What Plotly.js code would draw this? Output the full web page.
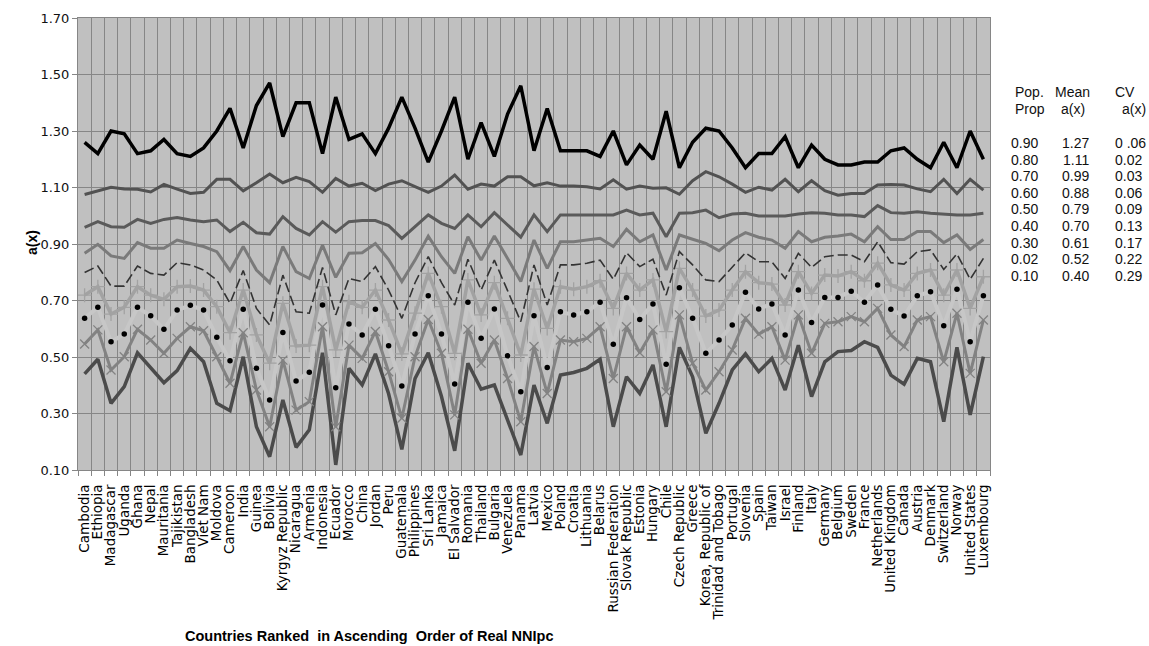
<!DOCTYPE html>
<html>
<head>
<meta charset="utf-8">
<script src="https://cdn.plot.ly/plotly-3.0.1.min.js"></script>
<style>html,body{margin:0;padding:0;background:#fff;}#chart{width:1149px;height:646px;}</style>
</head>
<body>
<div id="chart"></div>
<script>
const countries = ["Cambodia","Ethiopia","Madagascar","Uganda","Ghana","Nepal","Mauritania","Tajikistan","Bangladesh","Viet Nam","Moldova","Cameroon","India","Guinea","Bolivia","Kyrgyz Republic","Nicaragua","Armenia","Indonesia","Ecuador","Morocco","China","Jordan","Peru","Guatemala","Philippines","Sri Lanka","Jamaica","El Salvador","Romania","Thailand","Bulgaria","Venezuela","Panama","Latvia","Mexico","Poland","Croatia","Lithuania","Belarus","Russian Federation","Slovak Republic","Estonia","Hungary","Chile","Czech Republic","Greece","Korea, Republic of","Trinidad and Tobago","Portugal","Slovenia","Spain","Taiwan","Israel","Finland","Italy","Germany","Belgium","Sweden","France","Netherlands","United Kingdom","Canada","Austria","Denmark","Switzerland","Norway","United States","Luxembourg"];

const p90 = [1.26,1.22,1.30,1.29,1.22,1.23,1.27,1.22,1.21,1.24, 1.30,1.38,1.24,1.39,1.47,1.28,1.40,1.40,1.22,1.42, 1.27,1.29,1.22,1.31,1.42,1.31,1.19,1.30,1.42,1.20, 1.33,1.21,1.36,1.46,1.23,1.38,1.23,1.23,1.23,1.21, 1.30,1.18,1.25,1.20,1.37,1.17,1.26,1.31,1.30,1.24, 1.17,1.22,1.22,1.28,1.17,1.25,1.20,1.18,1.18,1.19, 1.19,1.23,1.24,1.20,1.17,1.26,1.17,1.30,1.20];
const p80 = [1.075,1.089,1.101,1.095,1.094,1.084,1.111,1.094,1.079,1.083, 1.129,1.129,1.088,1.117,1.148,1.117,1.136,1.121,1.083,1.132, 1.105,1.115,1.089,1.112,1.124,1.103,1.083,1.105,1.144,1.094, 1.112,1.105,1.138,1.138,1.106,1.117,1.105,1.105,1.103,1.095, 1.127,1.094,1.105,1.097,1.099,1.076,1.124,1.156,1.138,1.112, 1.083,1.101,1.091,1.129,1.085,1.124,1.089,1.073,1.079,1.079, 1.109,1.111,1.109,1.095,1.085,1.129,1.079,1.129,1.091];
const p70 = [0.959,0.979,0.961,0.959,0.987,0.973,0.987,0.994,0.985,0.979, 0.985,0.944,0.977,0.940,0.935,0.997,0.955,0.932,0.979,0.942, 0.979,0.983,0.983,0.965,0.920,0.961,1.003,0.973,0.955,1.003, 0.961,1.011,0.967,0.924,1.003,0.944,1.003,1.003,1.003,1.003, 1.003,1.020,1.003,1.009,0.926,1.009,1.011,1.020,0.993,1.006, 1.009,0.999,0.999,0.999,1.006,1.011,1.009,1.003,1.003,0.997, 1.036,1.011,1.009,1.014,1.009,1.006,1.003,1.003,1.009];
const p60 = [0.867,0.899,0.858,0.849,0.905,0.885,0.885,0.914,0.902,0.891, 0.873,0.806,0.891,0.808,0.763,0.891,0.802,0.778,0.896,0.782, 0.867,0.869,0.902,0.845,0.767,0.843,0.928,0.855,0.796,0.926, 0.843,0.928,0.849,0.767,0.914,0.814,0.908,0.908,0.914,0.920, 0.891,0.952,0.908,0.932,0.808,0.932,0.917,0.902,0.876,0.914, 0.940,0.924,0.914,0.885,0.944,0.908,0.924,0.928,0.935,0.908, 0.961,0.916,0.916,0.944,0.944,0.905,0.932,0.881,0.916];
const p50 = [0.799,0.822,0.751,0.751,0.822,0.796,0.790,0.834,0.826,0.808, 0.773,0.690,0.806,0.672,0.613,0.790,0.660,0.655,0.817,0.649, 0.778,0.767,0.820,0.737,0.637,0.763,0.855,0.763,0.684,0.846, 0.737,0.843,0.735,0.625,0.826,0.684,0.826,0.826,0.832,0.843, 0.775,0.869,0.820,0.846,0.719,0.873,0.826,0.773,0.767,0.820, 0.869,0.837,0.837,0.778,0.867,0.817,0.855,0.861,0.861,0.837, 0.908,0.834,0.829,0.873,0.879,0.810,0.865,0.775,0.849];
const p40 = [0.719,0.749,0.652,0.676,0.749,0.719,0.704,0.749,0.751,0.737, 0.678,0.586,0.737,0.578,0.478,0.690,0.539,0.542,0.749,0.525, 0.696,0.676,0.737,0.631,0.511,0.655,0.796,0.678,0.513,0.773, 0.649,0.763,0.637,0.507,0.740,0.601,0.749,0.740,0.749,0.770, 0.672,0.796,0.737,0.773,0.590,0.814,0.737,0.645,0.666,0.737, 0.802,0.763,0.758,0.684,0.802,0.725,0.790,0.787,0.802,0.770, 0.832,0.755,0.737,0.796,0.808,0.719,0.808,0.672,0.784];
const p30 = [0.637,0.676,0.554,0.581,0.676,0.646,0.598,0.666,0.683,0.666, 0.570,0.487,0.669,0.460,0.348,0.587,0.415,0.446,0.684,0.391, 0.617,0.578,0.669,0.540,0.397,0.581,0.717,0.581,0.404,0.694, 0.566,0.670,0.504,0.377,0.646,0.463,0.660,0.649,0.660,0.694, 0.545,0.710,0.633,0.688,0.474,0.745,0.637,0.513,0.560,0.613, 0.729,0.670,0.688,0.578,0.737,0.622,0.711,0.711,0.733,0.694, 0.755,0.669,0.645,0.717,0.731,0.611,0.740,0.554,0.717];
const p20 = [0.546,0.596,0.454,0.501,0.598,0.560,0.513,0.566,0.607,0.593, 0.501,0.407,0.586,0.383,0.253,0.489,0.312,0.342,0.607,0.253, 0.542,0.495,0.590,0.448,0.283,0.501,0.633,0.513,0.295,0.598, 0.478,0.560,0.424,0.271,0.537,0.371,0.560,0.554,0.566,0.607, 0.424,0.607,0.515,0.596,0.377,0.649,0.478,0.383,0.448,0.525, 0.637,0.581,0.607,0.489,0.649,0.513,0.619,0.625,0.643,0.625, 0.672,0.578,0.537,0.631,0.643,0.483,0.655,0.442,0.631];
const p10 = [0.440,0.492,0.336,0.395,0.515,0.460,0.409,0.452,0.531,0.483, 0.336,0.310,0.501,0.253,0.147,0.348,0.180,0.242,0.515,0.118, 0.460,0.401,0.511,0.370,0.173,0.424,0.515,0.360,0.168,0.478, 0.386,0.401,0.277,0.153,0.401,0.265,0.436,0.445,0.460,0.492, 0.253,0.430,0.371,0.472,0.253,0.534,0.430,0.230,0.336,0.454, 0.511,0.448,0.495,0.383,0.542,0.360,0.483,0.519,0.523,0.554, 0.534,0.436,0.404,0.495,0.483,0.271,0.534,0.295,0.501];

const popProp = ["0.90","0.80","0.70","0.60","0.50","0.40","0.30","0.02","0.10"];
const meanAx  = ["1.27","1.11","0.99","0.88","0.79","0.70","0.61","0.52","0.40"];
const cvAx    = ["0 .06","0.02","0.03","0.06","0.09","0.13","0.17","0.22","0.29"];

const yTicks = [0.10,0.30,0.50,0.70,0.90,1.10,1.30,1.50,1.70];

function line(y, color, width, extra) {
  return Object.assign({type:'scatter', mode:'lines', x:countries, y:y,
    line:{color:color, width:width}, hoverinfo:'skip', showlegend:false}, extra||{});
}

const traces = [
  line(p30, '#c7c7c7', 4),
  line(p10, '#4b4b4b', 3.5),
  line(p20, '#828282', 3, {mode:'lines+markers', marker:{symbol:'x-thin-open', size:9, line:{color:'#8c8c8c', width:1.3}}}),
  line(p40, '#a2a2a2', 3.5, {mode:'lines+markers', marker:{symbol:'cross-thin-open', size:10, line:{color:'#a8a8a8', width:1.3}}}),
  line(p50, '#333333', 1.6, {line:{color:'#333333', width:1.6, dash:'10px,4px'}}),
  line(p60, '#7a7a7a', 3),
  line(p70, '#5a5a5a', 3),
  line(p80, '#525252', 3),
  line(p90, '#000000', 3.5),
  {type:'scatter', mode:'markers', x:countries, y:p30, marker:{color:'#000', size:5.5, symbol:'circle'}, hoverinfo:'skip', showlegend:false}
];

const L = 78, R = 990, T = 18, B = 470;
const px = x => (x - L) / (R - L);
const py = y => (B - y) / (B - T);
const tf = {family:'Liberation Sans, Arial, sans-serif', size:14, color:'#111'};

const annotations = [];
function ann(text, x, y, xanchor, font) {
  annotations.push({text:text, xref:'paper', yref:'paper', x:px(x), y:py(y), xanchor:xanchor, yanchor:'middle', showarrow:false, font:font||tf});
}
ann('Pop.', 1013, 92, 'left');
ann('Mean', 1053, 92, 'left');
ann('CV', 1113, 92, 'left');
ann('Prop', 1013, 109, 'left');
ann('a(x)', 1059, 109, 'left');
ann('a(x)', 1120, 109, 'left');
popProp.forEach((p, i) => {
  const yy = 143 + i * 16.6;
  ann(p, 1009, yy, 'left');
  ann(meanAx[i], 1091, yy, 'right');
  ann(cvAx[i], 1113, yy, 'left');
});
annotations.push({text:'<b>Countries Ranked  in Ascending  Order of Real NNIpc</b>', xref:'paper', yref:'paper', x:px(369), y:py(636), xanchor:'center', yanchor:'middle', showarrow:false, font:{family:'Liberation Sans, Arial, sans-serif', size:14.5, color:'#000'}});
annotations.push({text:'<b>a(x)</b>', xref:'paper', yref:'paper', x:px(32), y:py(243), xanchor:'center', yanchor:'middle', textangle:-90, showarrow:false, font:{family:'Liberation Sans, Arial, sans-serif', size:14, color:'#000'}});

const layout = {
  width:1149, height:646,
  margin:{l:L, r:1149-R, t:T, b:646-B, pad:0},
  paper_bgcolor:'#ffffff', plot_bgcolor:'#c0c0c0',
  showlegend:false,
  xaxis:{type:'category', range:[-0.5, countries.length - 0.5], tickmode:'array', tickvals:countries, ticktext:countries,
    tickson:'boundaries', showgrid:true, gridcolor:'#868686', gridwidth:1,
    ticks:'outside', ticklen:5, tickcolor:'#868686', tickangle:-90, ticklabelstandoff:8,
    tickfont:{family:'DejaVu Sans, sans-serif', size:13.5, color:'#000'},
    showline:true, linecolor:'#868686', linewidth:1, mirror:true, zeroline:false, fixedrange:true},
  yaxis:{range:[0.1,1.7], tickvals:yTicks, tickformat:'.2f', showgrid:true, gridcolor:'#868686', gridwidth:1,
    ticks:'outside', ticklen:5, tickcolor:'#868686',
    tickfont:{family:'DejaVu Sans, sans-serif', size:13, color:'#111'},
    showline:true, linecolor:'#868686', linewidth:1, mirror:true, zeroline:false, fixedrange:true},
  annotations:annotations
};

Plotly.newPlot('chart', traces, layout, {staticPlot:true, displayModeBar:false});
</script>
</body>
</html>
